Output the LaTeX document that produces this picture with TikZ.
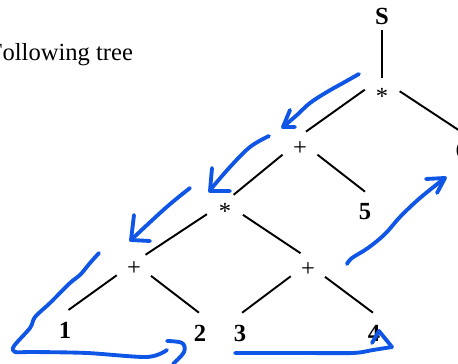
\documentclass[tikz,border=0pt]{standalone}
\usepackage{fontspec}
\setmainfont{Liberation Serif}
\definecolor{penblue}{RGB}{15,85,230}

\begin{document}
\begin{tikzpicture}[x=0.02cm,y=-0.02cm,line join=round,font=\fontsize{14}{17}\selectfont,
  op/.style={circle,inner sep=0pt,minimum size=0.72cm},
  leaf/.style={circle,inner sep=0pt,minimum size=0.8cm,font=\fontsize{14}{17}\selectfont\bfseries},
  edge/.style={line width=1.1pt},
  pen/.style={penblue,line width=2.2pt,line cap=round,line join=round}]
  \useasboundingbox (0,0) rectangle (458,364);
  % heading (cut at the left edge)
  \node[anchor=base west,inner sep=0pt] (head) at (-11.5,61) {Following tree};
  % the tree
  \node[leaf,rectangle,inner sep=3pt,minimum size=0pt] (S) at (382,16) {S};
  \node[op] (m1) at (382,96) {*};
  \node[op] (a1) at (300,149) {+};
  \node[leaf] (n6) at (462,150) {6};
  \node[op] (m2) at (225,211) {*};
  \node[leaf] (n5) at (365,212) {5};
  \node[op] (a2) at (134,269) {+};
  \node[op] (a3) at (308,270) {+};
  \node[leaf] (n1) at (65,330) {1};
  \node[leaf] (n2) at (200,333) {2};
  \node[leaf] (n3) at (240,333) {3};
  \node[leaf] (n4) at (374,333) {4};
  \draw[edge] (S.south) -- (m1.north);
  \draw[edge] (m1.160) -- (a1.71);
  \draw[edge] (m1.15) -- (n6.100);
  \draw[edge] (a1.198) -- (m2.62);
  \draw[edge] (a1.342) -- (n5.90);
  \draw[edge] (m2.190) -- (a2.51);
  \draw[edge] (m2.348) -- (a3.114);
  \draw[edge] (a2.200) -- (n1.80);
  \draw[edge] (a2.338) -- (n2.93);
  \draw[edge] (a3.200) -- (n3.84);
  \draw[edge] (a3.338) -- (n4.93);
  % pen strokes: walking down the left spine
  \draw[pen] plot[smooth,tension=0.6] coordinates {(359,74) (343,83) (327,92) (310,103) (297,115) (283,127)};
  \draw[pen] (290,110) -- (283,127) -- (295,127);
  \draw[pen] plot[smooth,tension=0.6] coordinates {(269,136) (250,147) (230,167) (211,189)};
  \draw[pen] (212,168) -- (210,191) -- (230,191);
  \draw[pen] plot[smooth,tension=0.6] coordinates {(190,188) (175,200) (160,213) (131,240)};
  \draw[pen] (134,215) -- (131,240) -- (150,241);
  % round the leaves
  \draw[pen] plot[smooth,tension=0.5] coordinates {(99,253) (90,263) (80,275) (70,283) (50,303) (35,317) (30,328) (14,346) (15,352) (33,352) (87,353) (147,357) (167,350)};
  \draw[pen] plot[smooth,tension=0.6] coordinates {(167,341) (182,343) (184,352) (173,364)};
  \draw[pen] plot[smooth,tension=0.5] coordinates {(235,353) (300,353) (353,353) (373,350) (392,347)};
  \draw[pen] (392,347) -- (379,331) -- (372,343);
  % back up the right side
  \draw[pen] plot[smooth,tension=0.6] coordinates {(347,264) (352,258) (368,248) (385,234) (400,217) (420,198) (445,178)};
  \draw[pen] (426,179) -- (445,178) -- (437,193);
\end{tikzpicture}
\end{document}
